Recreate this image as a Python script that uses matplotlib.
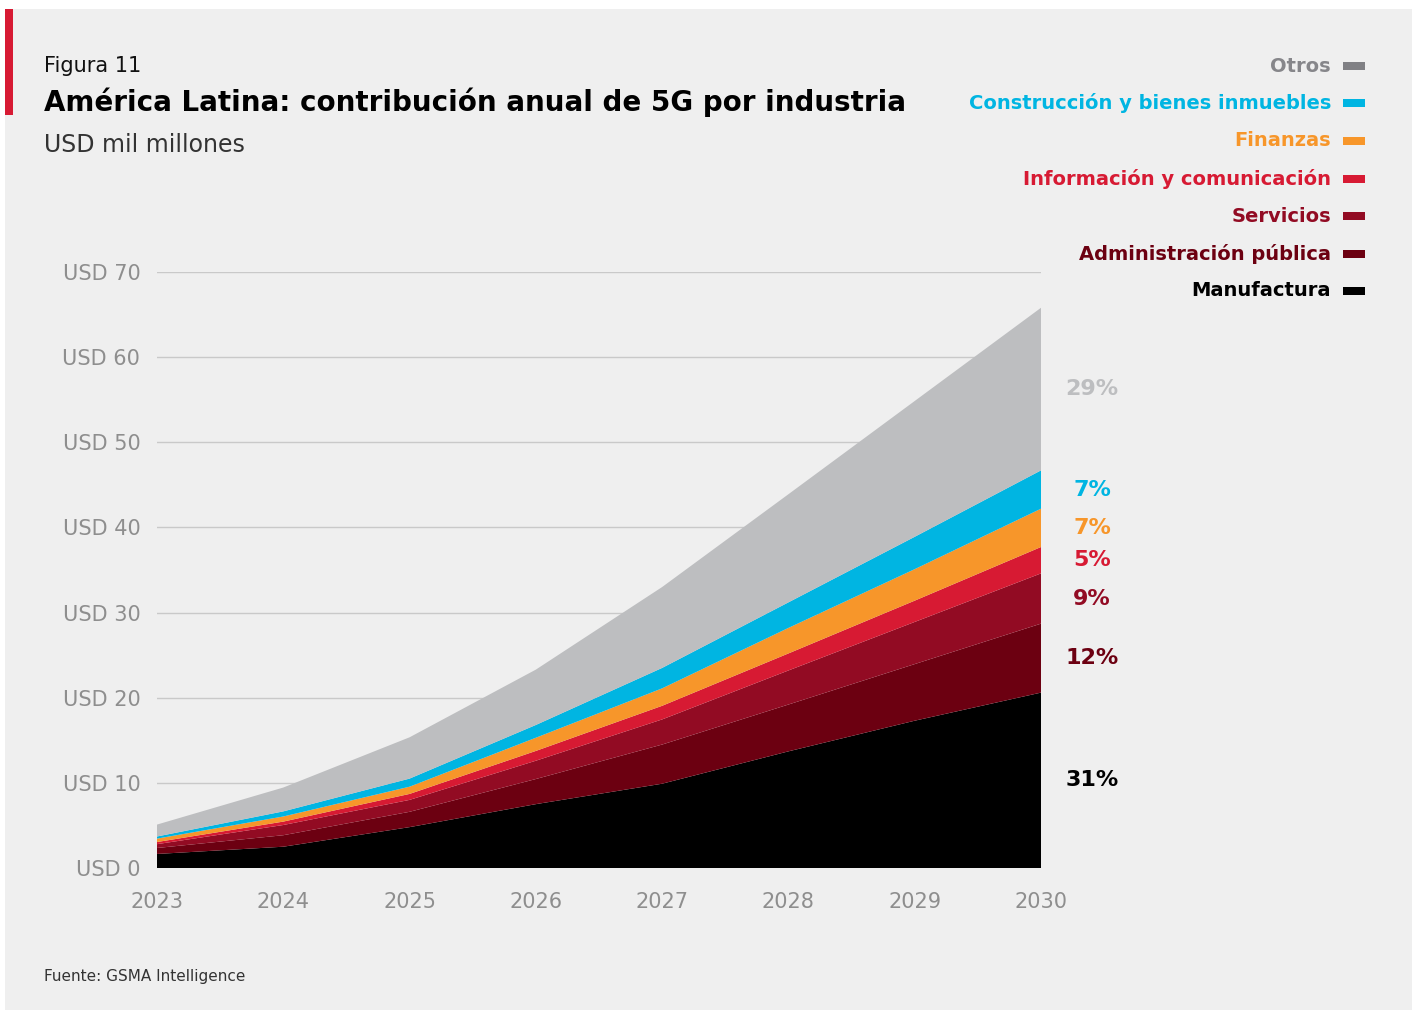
import numpy as np
import matplotlib.pyplot as plt
from matplotlib.patches import Rectangle

# USD mil millones por año y sector
years = [2023, 2024, 2025, 2026, 2027, 2028, 2029, 2030]
manufactura = [1.65, 2.5, 4.8, 7.5, 9.9, 13.7, 17.3, 20.6]
administracion = [0.7, 1.35, 1.8, 2.95, 4.6, 5.5, 6.65, 8.1]
servicios = [0.45, 1.2, 1.4, 2.15, 2.95, 4.0, 4.95, 5.9]
informacion = [0.25, 0.4, 0.7, 1.15, 1.6, 2.0, 2.5, 3.1]
finanzas = [0.4, 0.6, 0.85, 1.55, 2.05, 3.0, 3.7, 4.5]
construccion = [0.25, 0.6, 0.95, 1.5, 2.4, 3.0, 3.8, 4.5]
otros = [1.4, 2.8, 4.85, 6.5, 9.5, 12.7, 15.95, 19.1]

series = [manufactura, administracion, servicios, informacion,
          finanzas, construccion, otros]
names = ['Manufactura', 'Administración pública', 'Servicios',
         'Información y comunicación', 'Finanzas',
         'Construcción y bienes inmuebles', 'Otros']
colors = ['#000000', '#6c0011', '#920b23', '#d71a33',
          '#f7962a', '#00b5e2', '#bdbec0']
swatch = ['#000000', '#6c0011', '#920b23', '#d71a33',
          '#f7962a', '#00b5e2', '#808084']
text_col = ['#000000', '#6c0011', '#920b23', '#d71a33',
            '#f7962a', '#00b5e2', '#86868a']
pct_col = colors[:-1] + ['#bdbec0']

W, H = 1416, 1010
plt.rcParams['font.family'] = ['DejaVu Sans']
fig = plt.figure(figsize=(W / 100, H / 100), dpi=100)
fig.patch.set_facecolor('white')

# panel de fondo y barra roja
fig.patches.append(Rectangle((5 / W, 0), 1407 / W, 1001 / H, transform=fig.transFigure,
                             facecolor='#efefef', edgecolor='none', zorder=-2))
fig.patches.append(Rectangle((5 / W, (H - 115) / H), 8 / W, 106 / H, transform=fig.transFigure,
                             facecolor='#d71a33', edgecolor='none', zorder=-1))

ax = fig.add_axes([157 / W, (H - 868) / H, 884 / W, 596 / H])
ax.set_zorder(2)
ax.set_facecolor('none')
ax.stackplot(years, *series, colors=colors, linewidth=0)
ax.set_xlim(2023, 2030)
ax.set_ylim(0, 70)
ax.set_yticks(range(0, 80, 10))
ax.set_yticklabels(['USD %d' % v for v in range(0, 80, 10)])
ax.set_xticks(years)
ax.set_xticklabels([str(y) for y in years])
ax.tick_params(axis='y', length=0, pad=12, labelsize=15, labelcolor='#8e8e8e')
ax.tick_params(axis='x', length=0, pad=17, labelsize=15, labelcolor='#8e8e8e')
ax.grid(axis='y', color='#c9c9c9', linewidth=1)
ax.set_axisbelow(True)
for s in ax.spines.values():
    s.set_visible(False)

# porcentajes de 2030, centrados en cada franja
tot = sum(s[-1] for s in series)
base = 0
for s, c in zip(series, pct_col):
    mid = base + s[-1] / 2
    ax.text(2030.405, mid, '%d%%' % round(s[-1] / tot * 100), ha='center', va='center',
            fontsize=16, fontweight='bold', color=c, clip_on=False)
    base += s[-1]

# títulos
fig.text(44 / W, 1 - 66 / H, 'Figura 11', fontsize=15, color='#111111', va='center')
fig.text(44 / W, 1 - 102 / H, 'América Latina: contribución anual de 5G por industria',
         fontsize=20, fontweight='bold', color='#000000', va='center')
fig.text(44 / W, 1 - 145 / H, 'USD mil millones', fontsize=17, color='#333333', va='center')
fig.text(44 / W, 1 - 977 / H, 'Fuente: GSMA Intelligence', fontsize=11, color='#333333', va='center')

# leyenda
rows = [291, 254, 216, 179, 141, 103, 66]
for y, n, sc, tc in zip(rows, names, swatch, text_col):
    fig.text(1331 / W, 1 - y / H, n, fontsize=14, fontweight='semibold', color=tc,
             ha='right', va='center')
    fig.patches.append(Rectangle((1343 / W, 1 - (y + 4) / H), 22 / W, 8 / H,
                                 transform=fig.transFigure, facecolor=sc,
                                 edgecolor='none', zorder=2))

fig.savefig('out.png', dpi=100)
